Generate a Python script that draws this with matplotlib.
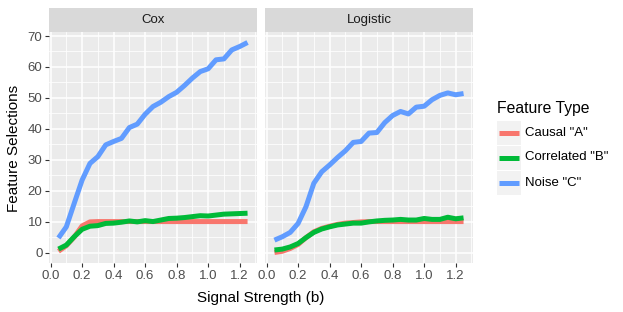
import numpy as np
import matplotlib
matplotlib.use("Agg")
import matplotlib.pyplot as plt
from matplotlib.patches import Rectangle

plt.rcParams['font.family'] = ['Liberation Sans', 'DejaVu Sans']

# 信号强度
signal = [0.05, 0.10, 0.15, 0.20, 0.25, 0.30, 0.35, 0.40, 0.45, 0.50, 0.55, 0.60, 0.65,
          0.70, 0.75, 0.80, 0.85, 0.90, 0.95, 1.00, 1.05, 1.10, 1.15, 1.20, 1.25]

# Cox 模型
cox_causal = [0.4, 2.2, 5.0, 8.6, 9.9, 10.0, 10.0, 10.0, 10.0, 10.0, 10.0, 10.0, 10.0,
              10.0, 10.0, 10.0, 10.0, 10.0, 10.0, 10.0, 10.0, 10.0, 10.0, 10.0, 10.0]
cox_corr = [1.1, 2.4, 5.1, 7.5, 8.5, 8.7, 9.4, 9.5, 9.8, 10.2, 9.9, 10.3, 10.0,
            10.5, 11.0, 11.1, 11.3, 11.6, 11.9, 11.8, 12.1, 12.4, 12.5, 12.6, 12.7]
cox_noise = [4.7, 8.3, 15.9, 23.4, 28.8, 31.0, 34.8, 35.9, 36.9, 40.4, 41.5, 44.7, 47.2,
             48.6, 50.4, 51.8, 54.0, 56.4, 58.5, 59.4, 62.3, 62.6, 65.5, 66.6, 67.9]

# Logistic 模型
log_causal = [0.0, 0.4, 1.3, 2.6, 4.8, 6.7, 7.8, 8.5, 9.1, 9.5, 9.7, 9.9, 10.0,
              10.0, 10.0, 10.0, 10.0, 10.0, 10.0, 10.0, 10.0, 10.0, 10.0, 10.0, 10.0]
log_corr = [0.8, 1.1, 1.8, 2.9, 4.8, 6.5, 7.6, 8.3, 8.9, 9.2, 9.5, 9.5, 9.9,
            10.2, 10.4, 10.5, 10.7, 10.5, 10.5, 11.0, 10.7, 10.7, 11.4, 10.9, 11.2]
log_noise = [4.0, 5.1, 6.5, 9.4, 14.8, 22.4, 26.1, 28.3, 30.7, 32.9, 35.6, 35.9, 38.6,
             38.8, 42.0, 44.3, 45.6, 44.8, 47.0, 47.3, 49.4, 50.8, 51.6, 51.0, 51.4]

panels = ['Cox', 'Logistic']
labels = ['Causal "A"', 'Correlated "B"', 'Noise "C"']
colors = ['#F8766D', '#00BA38', '#619CFF']
data = {'Cox': [cox_causal, cox_corr, cox_noise],
        'Logistic': [log_causal, log_corr, log_noise]}

W, H = 623, 312
fig = plt.figure(figsize=(W / 100, H / 100), dpi=100)

# 面板位置 (像素)
lefts = [49, 265]
pw = 208
top, bottom = 32, 263
strip_h = 24

ymax = max(max(cox_noise), max(log_noise))
for i, name in enumerate(panels):
    ax = fig.add_axes([lefts[i] / W, 1 - bottom / H, pw / W, (bottom - top) / H])
    ax.set_facecolor('#EBEBEB')
    for s in ax.spines.values():
        s.set_visible(False)
    for y, c in zip(data[name], colors):
        ax.plot(signal, y, color=c, lw=3.6, solid_capstyle='butt', zorder=3)
    span = signal[-1] - signal[0]
    ax.set_xlim(signal[0] - 0.05 * span, signal[-1] + 0.05 * span)
    ax.set_ylim(0 - 0.05 * ymax, ymax * 1.05)
    ax.set_xticks(np.arange(0, 1.21, 0.2))
    ax.set_xticks(np.arange(0.1, 1.31, 0.2), minor=True)
    ax.set_yticks(np.arange(0, 71, 10))
    ax.set_yticks(np.arange(5, 71, 10), minor=True)
    ax.xaxis.set_major_formatter(matplotlib.ticker.FormatStrFormatter('%.1f'))
    ax.grid(which='major', color='white', lw=1.1, zorder=1)
    ax.grid(which='minor', color='white', lw=0.55, zorder=1)
    ax.set_axisbelow(True)
    ax.tick_params(which='major', length=2.75, width=0.8, color='#333333',
                   labelsize=9.5, labelcolor='#4D4D4D', pad=2)
    ax.tick_params(which='minor', length=0)
    if i > 0:
        ax.tick_params(axis='y', which='major', length=0, labelleft=False)
    # 分面标题条
    sax = fig.add_axes([lefts[i] / W, 1 - top / H, pw / W, strip_h / H])
    sax.set_facecolor('#D9D9D9')
    sax.set_xticks([])
    sax.set_yticks([])
    for s in sax.spines.values():
        s.set_visible(False)
    sax.text(0.5, 0.5, name, ha='center', va='center', fontsize=9.5, color='#1A1A1A',
             transform=sax.transAxes)

fig.text((49 + 472) / 2 / W, 1 - 298 / H, 'Signal Strength (b)', ha='center', va='center',
         fontsize=11)
fig.text(14 / W, 1 - 148 / H, 'Feature Selections', ha='center', va='center',
         rotation=90, fontsize=11)

# 图例 (手动绘制, 像素坐标)
lax = fig.add_axes([0, 0, 1, 1], facecolor='none')
lax.set_xlim(0, W)
lax.set_ylim(H, 0)
lax.axis('off')
lax.text(497, 109, 'Feature Type', ha='left', va='center', fontsize=11.3)
for k, (lab, c) in enumerate(zip(labels, colors)):
    yc = 132.5 + 25 * k
    lax.add_patch(Rectangle((497, yc - 12), 24, 24, facecolor='#F2F2F2', edgecolor='none'))
    lax.plot([499, 519], [yc, yc], color=c, lw=3.6, solid_capstyle='butt')
    lax.text(525, yc, lab, ha='left', va='center', fontsize=9.5)

fig.savefig('out.png', dpi=100)
